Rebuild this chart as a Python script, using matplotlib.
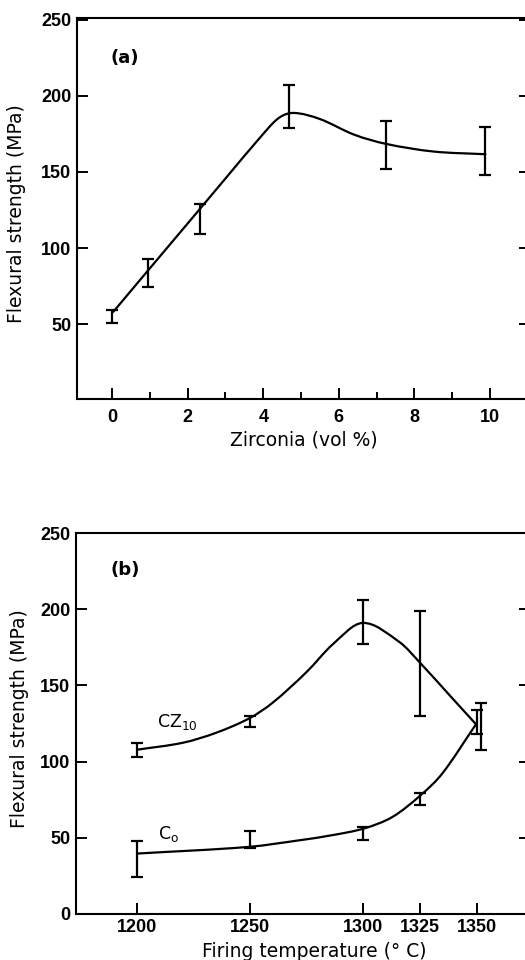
import numpy as np
import matplotlib
matplotlib.use("Agg")
import matplotlib.pyplot as plt
from matplotlib.path import Path
from matplotlib.patches import PathPatch
from matplotlib.font_manager import FontProperties

# ---------------- data: panel (a) ----------------
zr_vol = [0.0, 0.94, 2.33, 4.67, 7.25, 9.88]
zr_strength = [55.0, 83.7, 119.2, 192.8, 167.5, 163.7]
zr_err = [4.4, 9.3, 9.7, 14.2, 15.9, 15.8]
# fitted curve
zr_curve_x = [0.03, 1.0, 2.0, 3.0, 3.9, 4.4, 4.8, 5.5, 6.4, 7.25, 8.5, 9.88]
zr_curve_y = [58.2, 86.8, 116.2, 145.7, 172.1, 185.2, 188.7, 184.7, 174.5, 168.4, 163.4, 161.6]

# ---------------- data: panel (b) ----------------
temps = [1200, 1250, 1300, 1325, 1350]
cz10_strength = [107.5, 126.4, 191.7, 164.3, 123.0]
cz10_err = [4.5, 3.5, 14.3, 34.4, 15.4]
c0_strength = [36.3, 48.9, 53.0, 75.5, 126.0]
c0_err = [11.7, 5.5, 4.2, 3.9, 8.0]
cz10_curve_x = [1200.7, 1220.5, 1235.2, 1249.8, 1260.1, 1274.8, 1286.5, 1299.7,
                1315.8, 1325.4, 1337.8, 1349.6]
cz10_curve_y = [107.9, 112.4, 119.0, 128.5, 138.8, 158.6, 177.0, 191.0,
                178.5, 164.1, 143.8, 124.5]
c0_curve_x = [1200.7, 1249.1, 1271.9, 1286.5, 1300.4, 1312.9, 1325.4, 1334.9, 1349.6]
c0_curve_y = [39.7, 44.0, 48.4, 51.8, 56.2, 63.8, 78.2, 92.5, 124.5]

x_ticks_a = [0, 2, 4, 6, 8, 10]
x_minor_a = [1, 3, 5, 7, 9]
y_ticks_a = [50, 100, 150, 200, 250]
x_ticks_b = [1200, 1250, 1300, 1325, 1350]
y_ticks_b = [0, 50, 100, 150, 200, 250]

W, H = 525, 960
fig = plt.figure(figsize=(W / 100, H / 100), dpi=100)


def px_axes(left, top, right, bottom):
    return fig.add_axes([left / W, 1 - bottom / H, (right - left) / W, (bottom - top) / H])


TICK_FONT = dict(family=["Liberation Sans", "DejaVu Sans"], weight="bold", size=13)
LABEL_FONT = dict(family=["DejaVu Sans"], size=13.5)


def smooth_curve(ax, xs, ys, lw=1.6):
    """Draw a smooth curve through the read points using cubic Hermite Bezier segments."""
    x = np.asarray(xs, float)
    y = np.asarray(ys, float)
    n = len(x)
    m = np.empty(n)
    m[0] = (y[1] - y[0]) / (x[1] - x[0])
    m[-1] = (y[-1] - y[-2]) / (x[-1] - x[-2])
    for i in range(1, n - 1):
        m[i] = (y[i + 1] - y[i - 1]) / (x[i + 1] - x[i - 1])
    verts = [(x[0], y[0])]
    codes = [Path.MOVETO]
    for i in range(n - 1):
        dx = x[i + 1] - x[i]
        verts += [(x[i] + dx / 3, y[i] + m[i] * dx / 3),
                  (x[i + 1] - dx / 3, y[i + 1] - m[i + 1] * dx / 3),
                  (x[i + 1], y[i + 1])]
        codes += [Path.CURVE4] * 3
    ax.add_patch(PathPatch(Path(verts, codes), fill=False, lw=lw, ec="black",
                           capstyle="round", joinstyle="round"))


def style_axes(ax):
    for s in ax.spines.values():
        s.set_linewidth(1.5)
    ax.tick_params(axis="both", which="both", direction="in", width=1.4,
                   right=True, top=False)
    ax.tick_params(axis="y", which="major", length=8, pad=4)
    ax.tick_params(axis="x", which="major", length=8)
    ax.tick_params(axis="x", which="minor", length=5)
    for lab in ax.get_xticklabels() + ax.get_yticklabels():
        lab.set_fontproperties(FontProperties(**TICK_FONT))


ebar_kw = dict(fmt="none", ecolor="black", elinewidth=1.6, capsize=4, capthick=1.6)

# ---------------- panel (a) ----------------
axa = px_axes(77, 18, 530, 399)
axa.set_xlim(-0.93, 11.06)
axa.set_ylim(1, 251)
axa.set_xticks(x_ticks_a)
axa.set_xticks(x_minor_a, minor=True)
axa.set_yticks(y_ticks_a)
axa.set_xticklabels([str(v) for v in x_ticks_a])
axa.set_yticklabels([str(v) for v in y_ticks_a])
axa.errorbar(zr_vol, zr_strength, yerr=zr_err, **ebar_kw)
smooth_curve(axa, zr_curve_x, zr_curve_y)
style_axes(axa)
axa.tick_params(axis="x", pad=7)
axa.set_xlabel("Zirconia (vol %)", va="center", **LABEL_FONT)
axa.set_ylabel("Flexural strength (MPa)", va="center", **LABEL_FONT)
axa.xaxis.set_label_coords((304 - 77) / 453, -0.1074)
axa.yaxis.set_label_coords(-60 / 453, 0.487)
axa.text((111 - 77) / 453, 0.896, "(a)", transform=axa.transAxes, ha="left", va="center",
         family=["DejaVu Sans"], weight="semibold", size=13)

# ---------------- panel (b) ----------------
axb = px_axes(76, 533, 530, 914)
axb.set_xlim(1173.3, 1373.4)
axb.set_ylim(0, 250)
axb.set_xticks(x_ticks_b)
axb.set_yticks(y_ticks_b)
axb.set_xticklabels([str(v) for v in x_ticks_b])
axb.set_yticklabels([str(v) for v in y_ticks_b])
axb.errorbar(temps, c0_strength, yerr=c0_err, **ebar_kw)
cz_x = list(temps[:-1]) + [temps[-1] + 2]   # last bar drawn slightly offset, as in the original
axb.errorbar(cz_x, cz10_strength, yerr=cz10_err, **ebar_kw)
smooth_curve(axb, cz10_curve_x, cz10_curve_y)
smooth_curve(axb, c0_curve_x, c0_curve_y)
style_axes(axb)
axb.tick_params(axis="x", pad=3.5)
axb.set_xlabel("Firing temperature (° C)", va="center", **LABEL_FONT)
axb.set_ylabel("Flexural strength (MPa)", va="center", **LABEL_FONT)
axb.xaxis.set_label_coords((314 - 76) / 454, -0.0989)
axb.yaxis.set_label_coords(-56 / 454, 0.514)
axb.text((111 - 76) / 454, 0.902, "(b)", transform=axb.transAxes, ha="left", va="center",
         family=["DejaVu Sans"], weight="semibold", size=13)
axb.text(1208.9, 123, r"CZ$_{\mathregular{10}}$", ha="left", va="baseline",
         family=["DejaVu Sans"], size=12.5)
axb.text(1209.3, 48.9, r"C$_{\mathregular{o}}$", ha="left", va="baseline",
         family=["DejaVu Sans"], size=12.5)

fig.savefig("out.png", dpi=100)
